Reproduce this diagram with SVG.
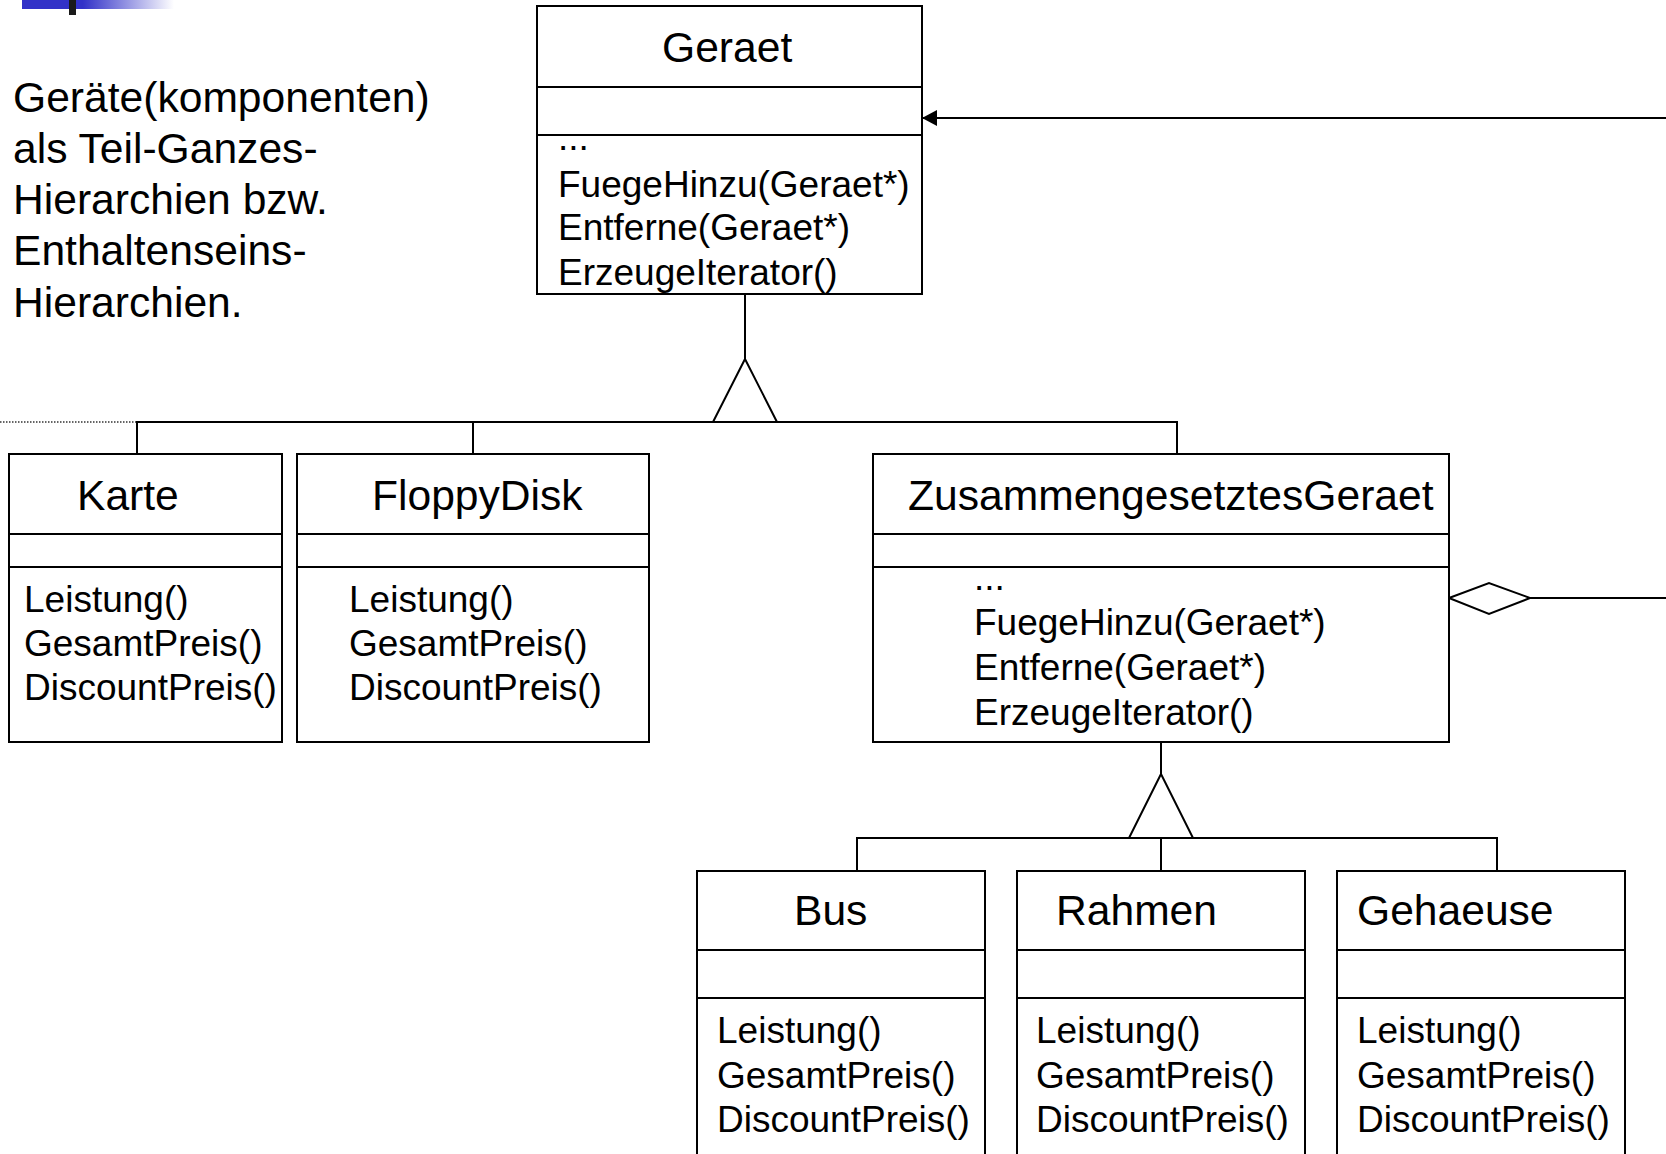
<svg xmlns="http://www.w3.org/2000/svg" width="1666" height="1154" viewBox="0 0 1666 1154">
<style>
  .box { fill: #ffffff; stroke: #000000; stroke-width: 2; }
  .sep { stroke: #000000; stroke-width: 2; }
  .title { font-family: "Liberation Sans", Arial, sans-serif; font-size: 42.6px; fill: #000000; }
  .m { font-family: "Liberation Sans", Arial, sans-serif; font-size: 37px; fill: #000000; }
  .note { font-family: "Liberation Sans", Arial, sans-serif; font-size: 42.6px; fill: #000000; }
  .line { fill: none; stroke: #000000; stroke-width: 2; }
  .tri { fill: #ffffff; stroke: #000000; stroke-width: 2; stroke-linejoin: miter; }
</style>
<defs>
  <linearGradient id="logoGrad" x1="0" y1="0" x2="1" y2="0">
    <stop offset="0" stop-color="#3232c8"/>
    <stop offset="0.4" stop-color="#3232c8"/>
    <stop offset="1" stop-color="#ffffff"/>
  </linearGradient>
  <marker id="arrowFilled" markerWidth="16" markerHeight="16" refX="15" refY="8" orient="auto" markerUnits="userSpaceOnUse">
    <path d="M0,0 L15,8 L0,16 Z" fill="#000000"/>
  </marker>
</defs>
<rect width="1666" height="1154" fill="#ffffff"/>

<g id="logo">
  <rect x="22" y="0" width="152" height="9" fill="url(#logoGrad)"/>
  <rect x="69" y="0" width="7" height="15" fill="#1a1a1a"/>
</g>

<g id="note">
  <text class="note" x="13" y="112">Geräte(komponenten)</text>
  <text class="note" x="13" y="163">als Teil-Ganzes-</text>
  <text class="note" x="13" y="214">Hierarchien bzw.</text>
  <text class="note" x="13" y="265">Enthaltenseins-</text>
  <text class="note" x="13" y="317">Hierarchien.</text>
</g>

<g id="connectors">
  <line x1="0" y1="422" x2="136" y2="422" stroke="#333333" stroke-width="1.4" stroke-dasharray="1.5,1.5"/>
  <!-- Geraet generalization -->
  <line class="line" x1="745" y1="294" x2="745" y2="359"/>
  <polyline class="line" points="137,454 137,422 1177,422 1177,454"/>
  <line class="line" x1="473" y1="422" x2="473" y2="454"/>
  <polygon class="tri" points="745,359 713,422 777,422"/>
  <!-- ZusammengesetztesGeraet generalization -->
  <line class="line" x1="1161" y1="742" x2="1161" y2="774"/>
  <polyline class="line" points="857,871 857,838 1497,838 1497,871"/>
  <line class="line" x1="1161" y1="838" x2="1161" y2="871"/>
  <polygon class="tri" points="1161,774 1129,838 1193,838"/>
  <!-- aggregation -->
  <line class="line" x1="1530" y1="598" x2="1666" y2="598"/>
  <polygon class="tri" points="1449,598 1489,583 1530,598 1489,614"/>
  <!-- association arrow to Geraet -->
  <line class="line" x1="1666" y1="118" x2="922" y2="118" marker-end="url(#arrowFilled)"/>
</g>

<g id="Geraet">
  <rect class="box" x="537" y="6" width="385" height="288"/>
  <line class="sep" x1="537" y1="87" x2="922" y2="87"/>
  <line class="sep" x1="537" y1="135" x2="922" y2="135"/>
  <text class="title" x="662" y="62">Geraet</text>
  <text class="m" x="558" y="150">...</text>
  <text class="m" x="558" y="197">FuegeHinzu(Geraet*)</text>
  <text class="m" x="558" y="240">Entferne(Geraet*)</text>
  <text class="m" x="558" y="285">ErzeugeIterator()</text>
</g>

<g id="Karte">
  <rect class="box" x="9" y="454" width="273" height="288"/>
  <line class="sep" x1="9" y1="534" x2="282" y2="534"/>
  <line class="sep" x1="9" y1="567" x2="282" y2="567"/>
  <text class="title" x="77" y="510">Karte</text>
  <text class="m" x="24" y="612">Leistung()</text>
  <text class="m" x="24" y="656">GesamtPreis()</text>
  <text class="m" x="24" y="700">DiscountPreis()</text>
</g>

<g id="FloppyDisk">
  <rect class="box" x="297" y="454" width="352" height="288"/>
  <line class="sep" x1="297" y1="534" x2="649" y2="534"/>
  <line class="sep" x1="297" y1="567" x2="649" y2="567"/>
  <text class="title" x="372" y="510">FloppyDisk</text>
  <text class="m" x="349" y="612">Leistung()</text>
  <text class="m" x="349" y="656">GesamtPreis()</text>
  <text class="m" x="349" y="700">DiscountPreis()</text>
</g>

<g id="ZusammengesetztesGeraet">
  <rect class="box" x="873" y="454" width="576" height="288"/>
  <line class="sep" x1="873" y1="534" x2="1449" y2="534"/>
  <line class="sep" x1="873" y1="567" x2="1449" y2="567"/>
  <text class="title" x="908" y="510">ZusammengesetztesGeraet</text>
  <text class="m" x="974" y="590">...</text>
  <text class="m" x="974" y="635">FuegeHinzu(Geraet*)</text>
  <text class="m" x="974" y="680">Entferne(Geraet*)</text>
  <text class="m" x="974" y="725">ErzeugeIterator()</text>
</g>

<g id="Bus">
  <rect class="box" x="697" y="871" width="288" height="300"/>
  <line class="sep" x1="697" y1="950" x2="985" y2="950"/>
  <line class="sep" x1="697" y1="998" x2="985" y2="998"/>
  <text class="title" x="794" y="925">Bus</text>
  <text class="m" x="717" y="1043">Leistung()</text>
  <text class="m" x="717" y="1088">GesamtPreis()</text>
  <text class="m" x="717" y="1132">DiscountPreis()</text>
</g>

<g id="Rahmen">
  <rect class="box" x="1017" y="871" width="288" height="300"/>
  <line class="sep" x1="1017" y1="950" x2="1305" y2="950"/>
  <line class="sep" x1="1017" y1="998" x2="1305" y2="998"/>
  <text class="title" x="1056" y="925">Rahmen</text>
  <text class="m" x="1036" y="1043">Leistung()</text>
  <text class="m" x="1036" y="1088">GesamtPreis()</text>
  <text class="m" x="1036" y="1132">DiscountPreis()</text>
</g>

<g id="Gehaeuse">
  <rect class="box" x="1337" y="871" width="288" height="300"/>
  <line class="sep" x1="1337" y1="950" x2="1625" y2="950"/>
  <line class="sep" x1="1337" y1="998" x2="1625" y2="998"/>
  <text class="title" x="1357" y="925">Gehaeuse</text>
  <text class="m" x="1357" y="1043">Leistung()</text>
  <text class="m" x="1357" y="1088">GesamtPreis()</text>
  <text class="m" x="1357" y="1132">DiscountPreis()</text>
</g>
</svg>
